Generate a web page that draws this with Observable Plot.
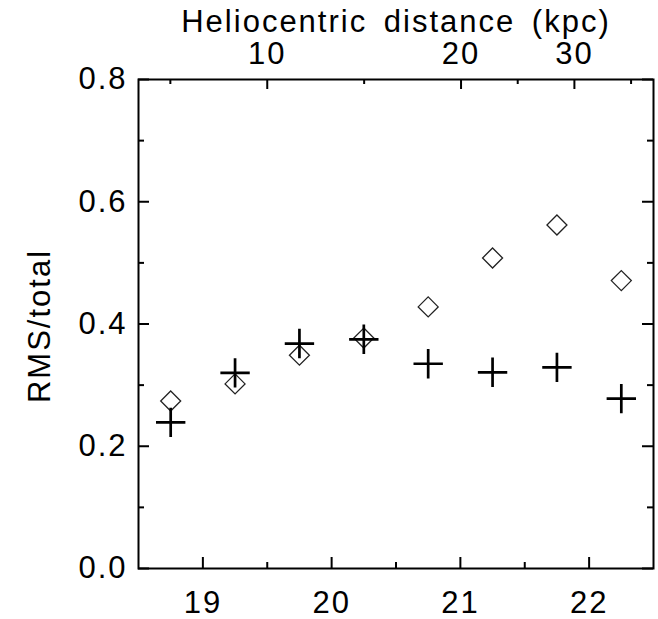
<!DOCTYPE html>
<html>
<head>
<meta charset="utf-8">
<script src="https://cdn.jsdelivr.net/npm/d3@7"></script>
<script src="https://cdn.jsdelivr.net/npm/@observablehq/plot@0.6"></script>
<style>
  html, body { margin: 0; padding: 0; background: white; }
</style>
</head>
<body>
<div id="chart"></div>
<script>
// ---- data ----
const magnitude = [18.75, 19.25, 19.75, 20.25, 20.75, 21.25, 21.75, 22.25];
const diamondValues = [0.274, 0.302, 0.349, 0.377, 0.428, 0.508, 0.562, 0.471];
const plusValues    = [0.239, 0.320, 0.368, 0.375, 0.335, 0.321, 0.329, 0.278];

const xMajorTicks = [19, 20, 21, 22];
const xMinorTicks = [19.5, 20.5, 21.5];
const yMajorTicks = [0, 0.2, 0.4, 0.6, 0.8];
const yMinorTicks = [0.1, 0.3, 0.5, 0.7];
const distanceTicks = [10, 20, 30];           // kpc, top axis
const absMag = 4.5;                            // m = M + 5 log10(d / 10 pc)
const xTitle = "Heliocentric distance (kpc)";
const yTitle = "RMS/total";

// ---- derived ----
const toMag = d => absMag + 5 * Math.log10(d * 1000 / 10);
const topMajor = distanceTicks.map(d => ({mag: toMag(d), label: String(d)}));
const tm = topMajor.map(d => d.mag);
const topMinor = [tm[0] - (tm[1] - tm[0]) / 2];
for (let i = 0; i < tm.length - 1; i++) topMinor.push((tm[i] + tm[i + 1]) / 2);
topMinor.push(tm[tm.length - 1] + (tm[tm.length - 1] - tm[tm.length - 2]) / 2);

const points = magnitude.map((m, i) => ({m, diamond: diamondValues[i], plus: plusValues[i]}));

const W = 658, H = 619, ML = 138, MR = 5, MT = 79, MB = 51;
const FW = W - ML - MR, FH = H - MT - MB;
const font = "'Liberation Sans', Arial, sans-serif";

const chart = Plot.plot({
  width: W, height: H,
  marginLeft: ML, marginRight: MR, marginTop: MT, marginBottom: MB,
  x: {domain: [18.5, 22.5], axis: null},
  y: {domain: [0, 0.8], axis: null},
  style: {fontFamily: font, fontSize: "31px", color: "black", background: "white", letterSpacing: "2px", wordSpacing: "6px"},
  marks: [
    // bottom ticks (inward)
    Plot.tickX(xMajorTicks, {x: d => d, insetTop: FH - 11, strokeWidth: 2}),
    Plot.tickX(xMinorTicks, {x: d => d, insetTop: FH - 6, strokeWidth: 2}),
    // top ticks (distance)
    Plot.tickX(tm, {x: d => d, insetBottom: FH - 10, strokeWidth: 2}),
    Plot.tickX(topMinor, {x: d => d, insetBottom: FH - 5, strokeWidth: 2}),
    // left / right ticks
    Plot.tickY(yMajorTicks, {y: d => d, insetRight: FW - 11, strokeWidth: 2}),
    Plot.tickY(yMinorTicks, {y: d => d, insetRight: FW - 6, strokeWidth: 2}),
    Plot.tickY(yMajorTicks, {y: d => d, insetLeft: FW - 11, strokeWidth: 2}),
    Plot.tickY(yMinorTicks, {y: d => d, insetLeft: FW - 6, strokeWidth: 2}),
    Plot.frame({stroke: "black", strokeWidth: 2}),
    // data
    Plot.dot(points, {x: "m", y: "diamond", symbol: "diamond2", r: 9, stroke: "#222", strokeWidth: 1.3, fill: "none"}),
    Plot.dot(points, {x: "m", y: "plus", symbol: "plus", r: 9.5, stroke: "black", strokeWidth: 2.7}),
    // tick labels
    Plot.text(xMajorTicks, {x: d => d, text: d => String(d), frameAnchor: "bottom", dy: 35, lineAnchor: "middle", fontSize: 31}),
    Plot.text(topMajor, {x: "mag", text: "label", frameAnchor: "top", dy: -25, lineAnchor: "middle", fontSize: 31}),
    Plot.text(yMajorTicks, {y: d => d, text: d => d.toFixed(1), frameAnchor: "left", textAnchor: "end", dx: -11, lineAnchor: "middle", fontSize: 31}),
    // titles
    Plot.text([xTitle], {text: d => d, frameAnchor: "top", dy: -57, lineAnchor: "middle", fontSize: 31}),
    Plot.text([yTitle], {text: d => d, frameAnchor: "left", textAnchor: "middle", rotate: -90, dx: -98, dy: 2, lineAnchor: "middle", fontSize: 31})
  ]
});
document.getElementById("chart").appendChild(chart);
</script>
</body>
</html>
